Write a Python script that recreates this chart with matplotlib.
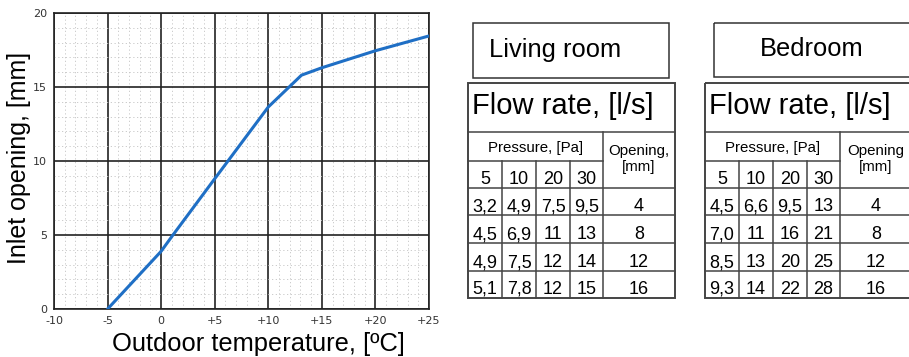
import numpy as np
import matplotlib.pyplot as plt
from matplotlib.patches import Rectangle

# inlet opening curve
temp_c = [-5, 0, 1, 5, 10, 13.1, 15, 20, 25]
opening_mm = [0, 3.9, 4.9, 8.8, 13.65, 15.8, 16.3, 17.45, 18.45]

x_ticks = [-10, -5, 0, 5, 10, 15, 20, 25]
x_tick_labels = ['-10', '-5', '0', '+5', '+10', '+15', '+20', '+25']
y_ticks = [0, 5, 10, 15, 20]

# flow-rate tables, l/s per pressure (columns) and opening (rows)
pressures_pa = [5, 10, 20, 30]
openings = [4, 8, 12, 16]
living_flow = [[3.2, 4.9, 7.5, 9.5],
               [4.5, 6.9, 11, 13],
               [4.9, 7.5, 12, 14],
               [5.1, 7.8, 12, 15]]
bedroom_flow = [[4.5, 6.6, 9.5, 13],
                [7.0, 11, 16, 21],
                [8.5, 13, 20, 25],
                [9.3, 14, 22, 28]]

W, H = 909, 357
FONT = 'Liberation Sans'
LINE = '#444444'

fig = plt.figure(figsize=(W / 100, H / 100), dpi=100)

# ------------------------------------------------------------------
# chart on graph paper
# ------------------------------------------------------------------
ax = fig.add_axes([54 / W, 1 - 309 / H, 375 / W, 296 / H])
ax.plot(temp_c, opening_mm, color='#1f6fc5', lw=2.2, solid_capstyle='round', zorder=5)
ax.set_xlim(-10, 25)
ax.set_ylim(0, 20)
ax.set_xticks(x_ticks)
ax.set_xticklabels(x_tick_labels)
ax.set_yticks(y_ticks)
ax.set_xticks(np.arange(-10, 26, 1), minor=True)
ax.set_yticks(np.arange(0, 21, 1), minor=True)
ax.grid(which='minor', color='#c4c4c4', lw=0.6, ls=(0, (1.5, 3)))
ax.grid(which='major', color='#222222', lw=1.2)
ax.set_axisbelow(True)
ax.tick_params(which='both', length=0)
ax.tick_params(labelsize=8, pad=5, colors='#333333')
for s in ax.spines.values():
    s.set_color('#222222')
    s.set_linewidth(1.2)

fig.text(19.5 / W, 1 - 158 / H, 'Inlet opening, [mm]', rotation=90, ha='center', va='center',
         fontsize=18, family=FONT)
fig.text(258 / W, 1 - 351 / H, 'Outdoor temperature, [ºC]', ha='center', va='baseline',
         fontsize=18.4, family=FONT)

# ------------------------------------------------------------------
# tables, drawn in pixel coordinates
# ------------------------------------------------------------------
ov = fig.add_axes([0, 0, 1, 1])
ov.set_xlim(0, W)
ov.set_ylim(H, 0)
ov.axis('off')

rows = [83, 132, 161, 188, 215, 243, 271, 298]
col_off = [0, 34, 68, 102, 135, 207]


def fmt(v):
    return f'{v:.1f}'.replace('.', ',') if v < 10 else f'{v:.0f}'


def draw_table(x0, flows, opening_label):
    cols = [x0 + c for c in col_off]
    ov.add_patch(Rectangle((cols[0], rows[0]), cols[-1] - cols[0], rows[-1] - rows[0],
                           fill=False, ec=LINE, lw=1.4))
    ov.plot([cols[0], cols[-1]], [rows[1]] * 2, color=LINE, lw=1.1)
    ov.plot([cols[0], cols[4]], [rows[2]] * 2, color=LINE, lw=1.1)
    for r in rows[3:-1]:
        ov.plot([cols[0], cols[-1]], [r, r], color=LINE, lw=1.1)
    ov.plot([cols[4]] * 2, [rows[1], rows[-1]], color=LINE, lw=1.1)
    for c in cols[1:4]:
        ov.plot([c, c], [rows[2], rows[-1]], color=LINE, lw=1.1)

    ov.text(x0 + 4, 114.5, 'Flow rate, [l/s]', ha='left', va='baseline', fontsize=21, family=FONT)
    ov.text((cols[0] + cols[4]) / 2, 152, 'Pressure, [Pa]', ha='center', va='baseline',
            fontsize=10.8, family=FONT)
    ov.text((cols[4] + cols[5]) / 2, 159, opening_label, ha='center', va='center',
            fontsize=10.8, family=FONT, linespacing=1.2)

    for j, p in enumerate(pressures_pa):
        ov.text((cols[j] + cols[j + 1]) / 2, rows[3] - 4.5, str(p), ha='center', va='baseline',
                fontsize=13, family=FONT)
    for i, row in enumerate(flows):
        base = rows[4 + i] - 4
        for j, v in enumerate(row):
            ov.text((cols[j] + cols[j + 1]) / 2, base, fmt(v), ha='center', va='baseline',
                    fontsize=13, family=FONT)
        ov.text((cols[4] + cols[5]) / 2, base, str(openings[i]), ha='center', va='baseline',
                fontsize=13, family=FONT)


# room name boxes
ov.add_patch(Rectangle((473, 23), 196, 55, fill=False, ec='#333333', lw=1.1))
ov.text(489, 57, 'Living room', ha='left', va='baseline', fontsize=18.4, family=FONT)
ov.add_patch(Rectangle((714, 23), 200, 54, fill=False, ec='#333333', lw=1.1))
ov.text(812, 56, 'Bedroom', ha='center', va='baseline', fontsize=18.4, family=FONT)

draw_table(468, living_flow, 'Opening,\n[mm]')
draw_table(705, bedroom_flow, 'Opening\n[mm]')

fig.savefig('out.png', dpi=100, facecolor='white')
